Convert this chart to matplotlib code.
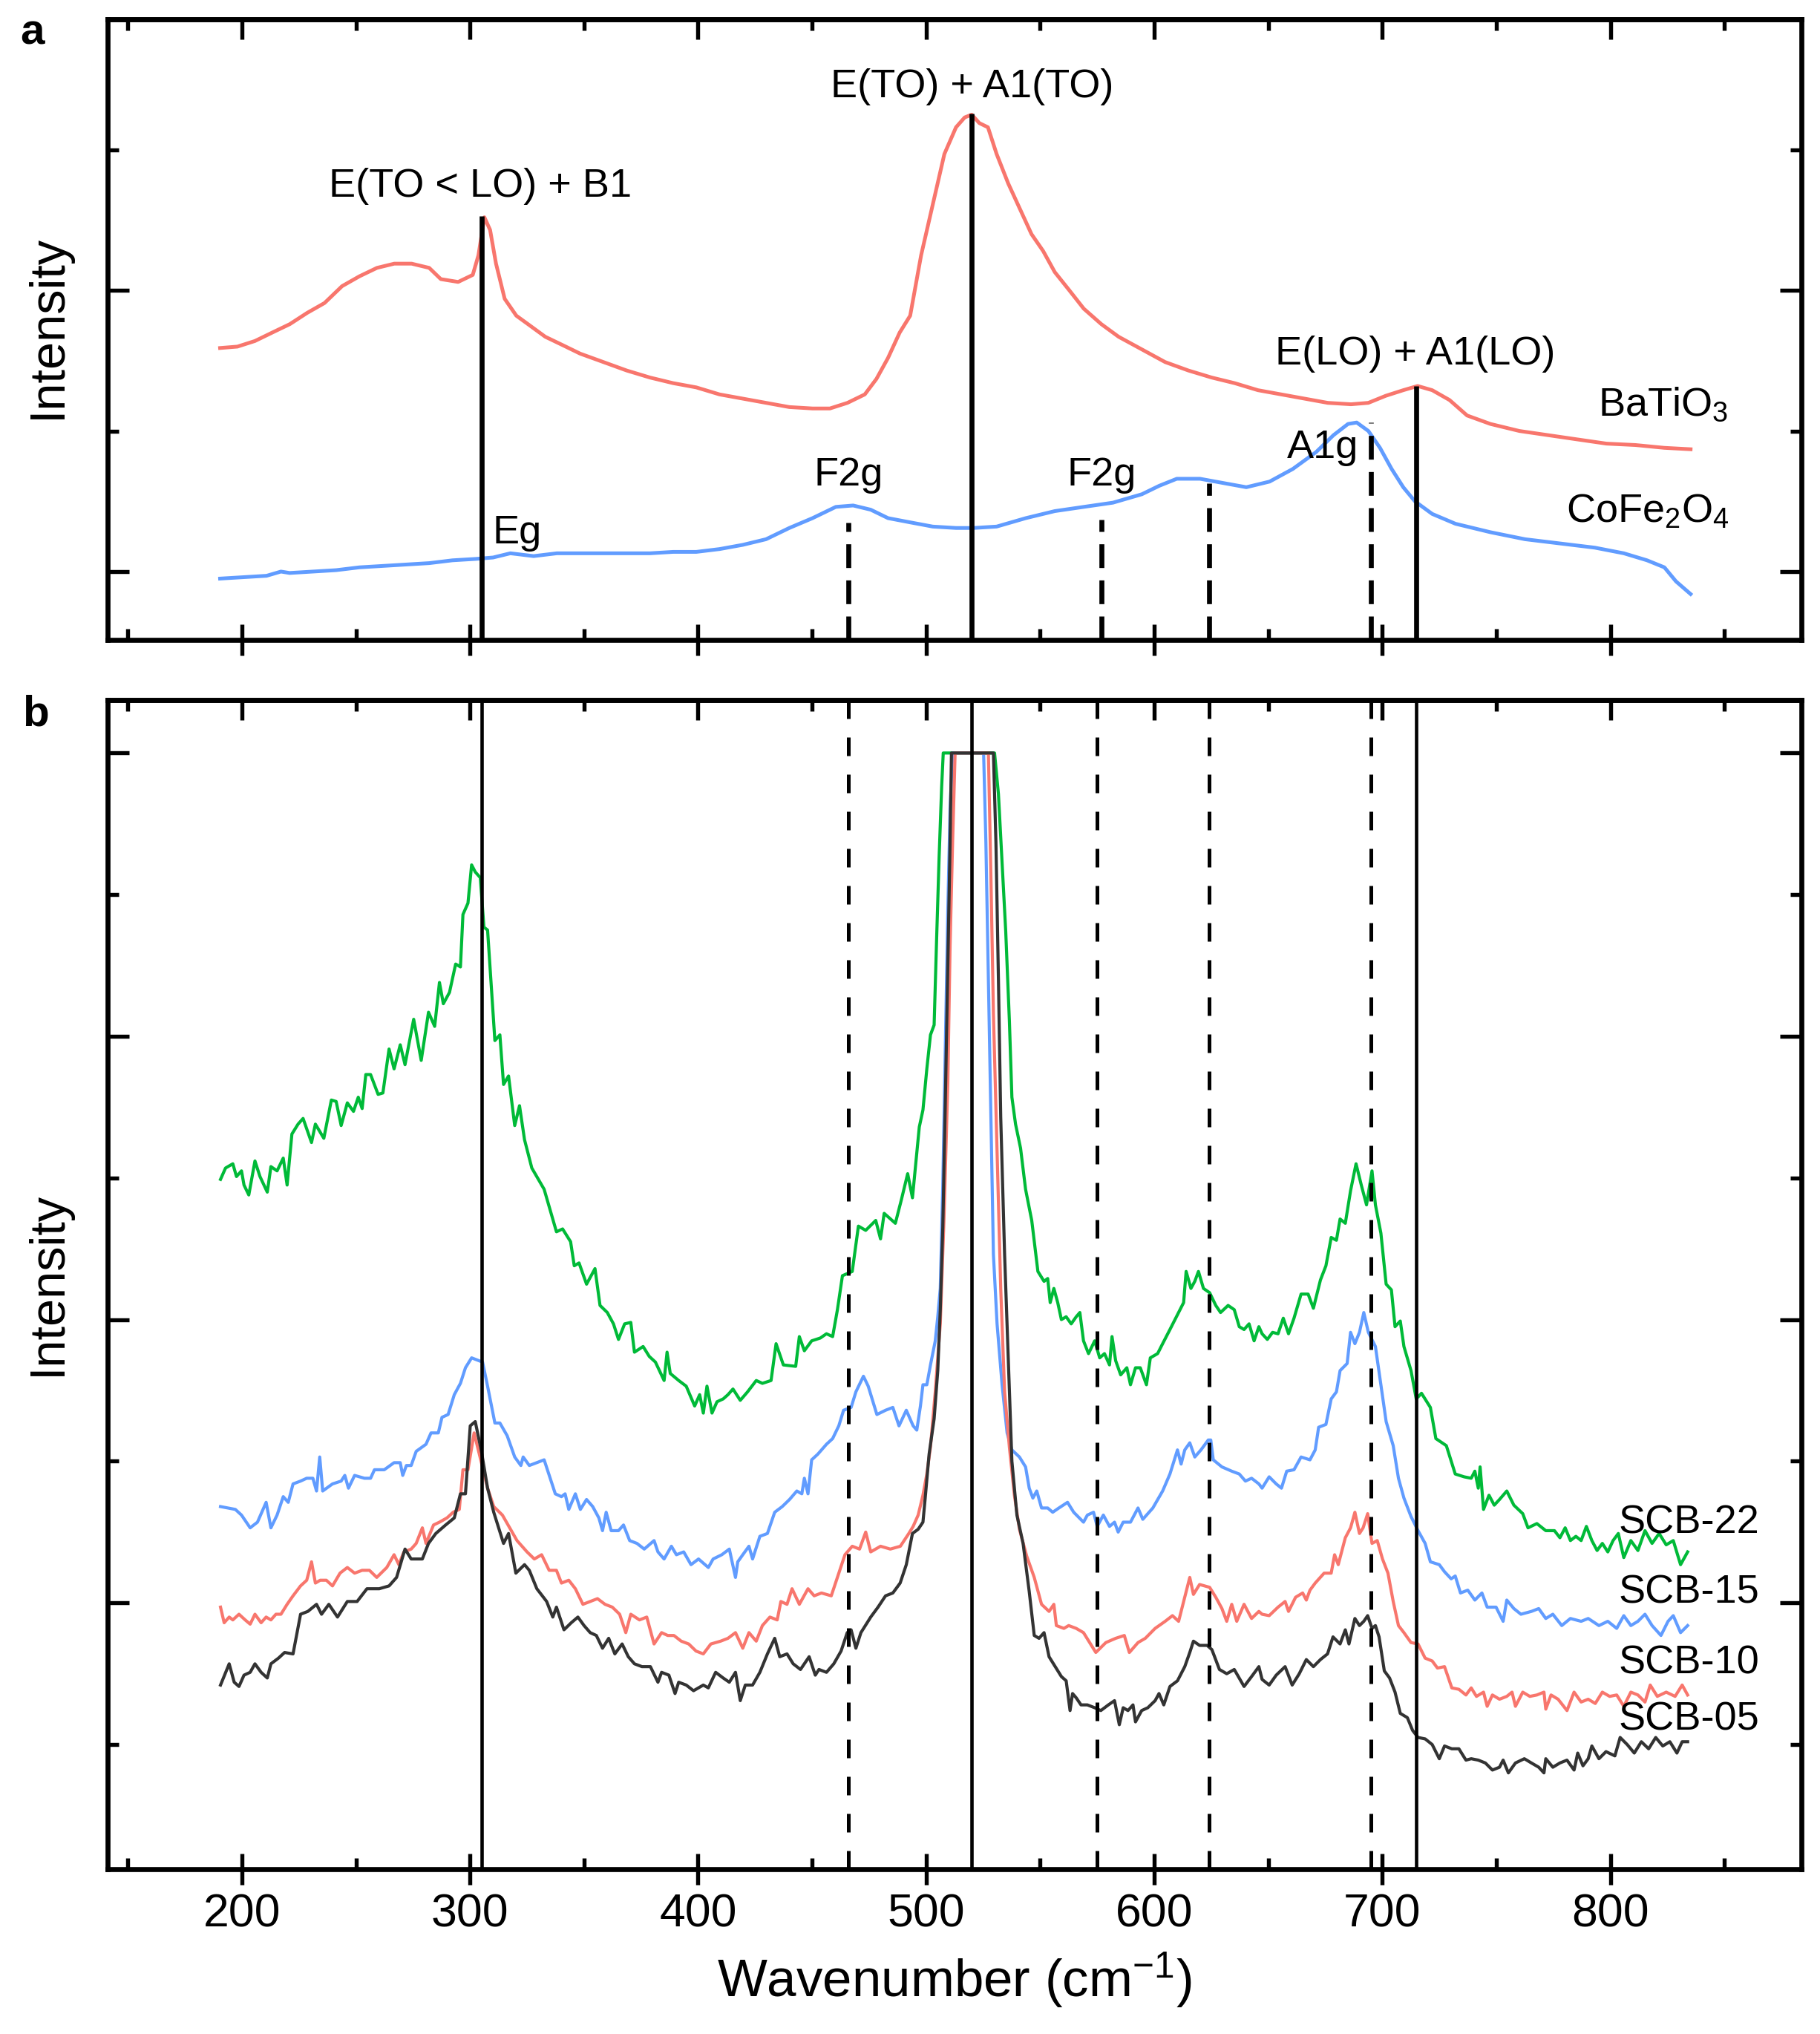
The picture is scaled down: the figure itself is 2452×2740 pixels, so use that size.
import numpy as np
import matplotlib
matplotlib.use("Agg")
import matplotlib.pyplot as plt
from matplotlib.ticker import MultipleLocator, FixedLocator, NullFormatter

plt.rcParams['font.family'] = ['Liberation Sans', 'DejaVu Sans']
plt.rcParams['mathtext.fontset'] = 'custom'
plt.rcParams['mathtext.rm'] = 'Liberation Sans'
plt.rcParams['mathtext.it'] = 'Liberation Sans:italic'
plt.rcParams['mathtext.bf'] = 'Liberation Sans:bold'

RED = '#F8766D'
BLUE = '#619CFF'
GREEN = '#00BA38'
DARK = '#333333'

# ---- panel a : reference spectra (wavenumber, intensity a.u.) ----
batio3 = [(190.4, 1.59), (198.0, 1.60), (205.7, 1.64), (213.3, 1.70), (221.0, 1.76), (228.6, 1.84),
          (236.2, 1.91), (243.9, 2.03), (251.5, 2.10), (259.2, 2.16), (266.8, 2.19), (274.4, 2.19),
          (282.1, 2.16), (287.2, 2.08), (294.8, 2.06), (301.2, 2.11), (303.7, 2.25), (306.3, 2.52),
          (308.8, 2.43), (311.4, 2.19), (315.2, 1.94), (320.3, 1.82), (325.4, 1.76), (333.0, 1.67),
          (340.7, 1.61), (348.3, 1.55), (358.5, 1.49), (368.7, 1.43), (378.9, 1.38), (389.1, 1.34),
          (399.2, 1.31), (409.4, 1.26), (419.6, 1.23), (429.8, 1.20), (440.0, 1.17), (450.2, 1.16),
          (457.8, 1.16), (465.5, 1.20), (473.1, 1.26), (478.2, 1.37), (483.3, 1.52), (488.4, 1.70),
          (493.0, 1.82), (497.8, 2.25), (502.9, 2.61), (508.0, 2.97), (513.1, 3.16), (516.9, 3.23),
          (520.0, 3.25), (523.3, 3.19), (527.1, 3.16), (530.9, 2.97), (536.0, 2.76), (541.1, 2.58),
          (546.2, 2.40), (551.3, 2.28), (556.4, 2.13), (562.8, 2.00), (569.1, 1.87), (576.8, 1.76),
          (584.4, 1.67), (594.6, 1.58), (604.8, 1.49), (615.0, 1.43), (625.2, 1.38), (635.3, 1.34),
          (645.5, 1.29), (655.7, 1.26), (665.9, 1.23), (676.1, 1.20), (686.3, 1.19), (693.9, 1.20),
          (701.5, 1.25), (709.2, 1.29), (715.5, 1.32), (721.9, 1.29), (729.5, 1.22), (737.2, 1.11),
          (747.4, 1.05), (760.1, 1.00), (772.8, 0.97), (785.5, 0.94), (798.3, 0.91), (811.0, 0.90),
          (823.7, 0.88), (835.2, 0.87)]

cofe2o4 = [(190.4, -0.05), (200.6, -0.04), (210.8, -0.03), (217.1, 0.00), (220.9, -0.01), (231.1, 0.00),
           (241.3, 0.01), (251.5, 0.03), (261.7, 0.04), (271.9, 0.05), (282.1, 0.06), (292.3, 0.08),
           (302.5, 0.09), (310.1, 0.10), (317.7, 0.13), (327.9, 0.11), (338.1, 0.13), (348.3, 0.13),
           (358.5, 0.13), (368.7, 0.13), (378.9, 0.13), (389.1, 0.14), (399.2, 0.14), (409.4, 0.16),
           (419.6, 0.19), (429.8, 0.23), (440.0, 0.31), (450.2, 0.38), (460.4, 0.46), (468.0, 0.47),
           (475.7, 0.44), (483.3, 0.38), (493.0, 0.35), (502.9, 0.32), (513.1, 0.31), (520.8, 0.31),
           (530.9, 0.32), (543.7, 0.38), (556.4, 0.43), (569.1, 0.46), (581.9, 0.49), (594.6, 0.55),
           (602.2, 0.61), (609.9, 0.66), (620.1, 0.66), (630.2, 0.63), (640.4, 0.60), (650.6, 0.64),
           (660.8, 0.73), (671.0, 0.85), (678.6, 0.97), (685.0, 1.05), (688.8, 1.06), (693.9, 1.00),
           (699.0, 0.88), (704.1, 0.73), (709.2, 0.60), (714.3, 0.50), (721.9, 0.41), (732.1, 0.34),
           (747.4, 0.28), (762.6, 0.23), (777.9, 0.20), (793.2, 0.17), (805.9, 0.13), (816.1, 0.08),
           (823.7, 0.03), (828.8, -0.07), (835.2, -0.16)]

# mode positions and how high the marker lines reach in panel a
bto_modes = [305, 520, 715]
bto_tops = [2.53, 3.26, 1.32]
cfo_modes_a = [466, 577, 624, 695]
cfo_tops = [0.35, 0.37, 0.63, 1.06]
cfo_modes_b = [466, 575, 624, 695]

# ---- panel b : composite samples ----
scb22 = [(190.6, 3.99), (192.8, 4.07), (196.0, 4.10), (197.6, 4.01), (199.8, 4.05), (200.9, 3.95),
         (203.0, 3.88), (205.7, 4.12), (207.9, 4.01), (211.1, 3.90), (212.7, 4.08), (215.4, 4.05),
         (218.1, 4.14), (219.8, 3.95), (221.9, 4.31), (224.6, 4.38), (226.8, 4.42), (230.5, 4.25),
         (232.2, 4.38), (235.9, 4.28), (239.2, 4.55), (241.3, 4.54), (243.5, 4.37), (246.2, 4.53),
         (248.9, 4.47), (251.0, 4.57), (252.7, 4.49), (254.3, 4.73), (256.4, 4.73), (259.7, 4.59),
         (261.8, 4.60), (264.5, 4.91), (266.7, 4.77), (269.4, 4.94), (271.5, 4.80), (275.3, 5.12),
         (278.6, 4.83), (281.8, 5.17), (284.5, 5.07), (286.6, 5.38), (288.3, 5.23), (291.0, 5.31),
         (293.7, 5.51), (295.8, 5.49), (296.9, 5.86), (299.1, 5.94), (300.7, 6.21), (302.3, 6.16),
         (304.5, 6.12), (306.1, 5.77), (307.7, 5.75), (310.9, 4.97), (313.1, 5.01), (314.7, 4.66),
         (316.9, 4.72), (319.6, 4.37), (321.7, 4.51), (323.9, 4.27), (327.1, 4.07), (332.5, 3.92),
         (337.9, 3.62), (340.6, 3.64), (344.1, 3.55), (345.7, 3.38), (347.8, 3.40), (351.1, 3.25),
         (354.8, 3.36), (357.0, 3.10), (360.2, 3.05), (362.9, 2.97), (365.1, 2.86), (367.8, 2.97),
         (370.5, 2.98), (372.1, 2.77), (375.9, 2.81), (378.6, 2.74), (381.3, 2.70), (385.1, 2.57),
         (386.4, 2.77), (387.8, 2.62), (391.5, 2.57), (394.8, 2.53), (398.5, 2.39), (400.7, 2.47),
         (402.3, 2.34), (403.9, 2.53), (406.1, 2.34), (408.3, 2.42), (411.0, 2.44), (413.1, 2.47),
         (415.3, 2.51), (418.5, 2.43), (421.7, 2.49), (425.5, 2.57), (428.2, 2.55), (432.0, 2.57),
         (434.2, 2.83), (437.4, 2.68), (442.8, 2.67), (444.4, 2.88), (446.6, 2.78), (449.8, 2.85),
         (453.6, 2.87), (456.3, 2.90), (459.0, 2.88), (461.1, 3.07), (463.3, 3.31), (467.6, 3.34),
         (470.3, 3.66), (473.5, 3.63), (477.9, 3.70), (480.0, 3.57), (481.6, 3.75), (486.5, 3.68),
         (489.2, 3.85), (491.9, 4.03), (494.0, 3.86), (497.0, 4.36), (498.6, 4.48), (500.3, 4.77),
         (501.9, 5.01), (503.5, 5.08), (504.6, 5.69), (505.7, 6.27), (506.8, 6.76), (507.5, 7.0),
         (530.0, 7.0), (531.7, 6.71), (533.3, 6.22), (534.9, 5.74), (536.5, 5.11), (537.6, 4.57),
         (539.2, 4.38), (541.4, 4.21), (543.6, 3.92), (546.3, 3.70), (549.0, 3.34), (551.7, 3.27),
         (553.3, 3.29), (554.4, 3.12), (556.0, 3.22), (557.7, 3.12), (559.3, 3.00), (561.4, 3.02),
         (563.6, 2.97), (565.8, 3.02), (567.4, 3.05), (569.0, 2.85), (571.2, 2.76), (573.9, 2.85),
         (576.1, 2.73), (578.2, 2.76), (580.4, 2.68), (581.5, 2.88), (583.1, 2.71), (585.3, 2.61),
         (588.0, 2.66), (589.6, 2.54), (591.8, 2.66), (593.9, 2.66), (596.6, 2.54), (598.3, 2.73),
         (601.5, 2.76), (603.7, 2.83), (606.9, 2.93), (611.3, 3.07), (612.9, 3.12), (614.0, 3.34),
         (616.1, 3.22), (617.8, 3.27), (619.4, 3.34), (621.6, 3.22), (624.3, 3.19), (627.0, 3.10),
         (629.1, 3.05), (632.4, 3.10), (635.1, 3.07), (637.3, 2.95), (639.4, 2.93), (641.6, 2.97),
         (643.8, 2.85), (645.9, 2.95), (647.3, 2.90), (649.6, 2.86), (651.9, 2.91), (654.3, 2.90),
         (656.6, 3.01), (658.9, 2.90), (661.3, 3.01), (664.4, 3.18), (667.5, 3.18), (669.8, 3.08),
         (672.9, 3.28), (675.3, 3.38), (677.6, 3.58), (679.9, 3.56), (681.5, 3.71), (683.8, 3.68),
         (686.1, 3.91), (688.5, 4.10), (690.8, 3.95), (693.1, 3.81), (695.5, 4.05), (697.0, 3.81),
         (699.4, 3.61), (701.7, 3.25), (704.0, 3.21), (705.6, 2.95), (707.9, 2.99), (709.5, 2.81),
         (712.6, 2.64), (714.9, 2.44), (717.2, 2.48), (721.1, 2.38), (723.5, 2.16), (728.1, 2.11),
         (732.0, 1.91), (735.9, 1.89), (739.0, 1.88), (740.6, 1.93), (742.1, 1.81), (742.9, 1.96),
         (744.4, 1.66), (746.8, 1.76), (749.1, 1.69), (751.4, 1.73), (754.6, 1.79), (757.7, 1.69),
         (761.6, 1.63), (763.9, 1.53), (767.8, 1.56), (771.7, 1.51), (775.5, 1.51), (777.9, 1.46),
         (780.2, 1.53), (782.5, 1.44), (784.9, 1.47), (787.2, 1.44), (789.5, 1.54), (791.9, 1.44),
         (794.2, 1.37), (796.5, 1.42), (798.9, 1.36), (801.2, 1.44), (803.5, 1.49), (805.9, 1.32),
         (809.0, 1.44), (812.1, 1.37), (815.2, 1.51), (818.3, 1.42), (821.4, 1.49), (824.5, 1.41),
         (827.6, 1.44), (830.8, 1.27), (833.9, 1.36)]

scb15 = [(190.6, 1.68), (197.1, 1.66), (199.8, 1.62), (203.6, 1.53), (206.8, 1.57), (210.6, 1.71),
         (212.7, 1.53), (215.4, 1.62), (218.1, 1.75), (220.3, 1.71), (222.4, 1.84), (225.7, 1.86),
         (228.4, 1.88), (231.1, 1.88), (232.7, 1.79), (234.1, 2.03), (235.4, 1.79), (239.7, 1.84),
         (243.5, 1.86), (245.1, 1.90), (246.7, 1.81), (249.4, 1.90), (253.7, 1.88), (256.4, 1.88),
         (258.1, 1.94), (262.4, 1.94), (266.7, 1.99), (269.4, 1.99), (270.5, 1.90), (272.1, 1.97),
         (274.2, 1.97), (276.4, 2.07), (280.7, 2.12), (282.9, 2.20), (286.1, 2.20), (287.7, 2.31),
         (290.4, 2.33), (293.1, 2.47), (295.8, 2.55), (298.0, 2.66), (300.7, 2.73), (305.5, 2.70),
         (307.7, 2.53), (310.9, 2.27), (313.1, 2.27), (316.3, 2.18), (319.6, 2.03), (322.3, 1.97),
         (323.3, 2.03), (326.0, 1.97), (332.5, 2.01), (337.4, 1.77), (340.1, 1.75), (341.7, 1.77),
         (343.3, 1.66), (346.2, 1.77), (348.4, 1.66), (351.1, 1.73), (353.8, 1.68), (356.5, 1.60),
         (358.1, 1.51), (359.7, 1.64), (361.9, 1.51), (365.1, 1.51), (367.3, 1.55), (370.0, 1.44),
         (373.2, 1.42), (376.4, 1.38), (380.7, 1.44), (382.4, 1.36), (385.1, 1.31), (388.3, 1.40),
         (390.5, 1.34), (393.7, 1.36), (396.9, 1.27), (400.2, 1.31), (404.5, 1.25), (406.6, 1.31),
         (410.4, 1.34), (413.7, 1.38), (416.4, 1.18), (417.4, 1.29), (419.6, 1.34), (422.3, 1.40),
         (423.9, 1.31), (427.1, 1.47), (430.4, 1.49), (433.6, 1.64), (436.9, 1.68), (440.1, 1.73),
         (443.3, 1.79), (445.5, 1.77), (446.6, 1.88), (448.2, 1.77), (449.8, 2.01), (452.5, 2.05),
         (456.3, 2.12), (459.0, 2.16), (461.7, 2.25), (463.8, 2.36), (467.1, 2.38), (469.2, 2.49),
         (472.5, 2.60), (474.6, 2.53), (478.4, 2.33), (482.2, 2.36), (485.4, 2.38), (488.1, 2.25),
         (491.3, 2.36), (494.3, 2.25), (495.9, 2.22), (497.5, 2.39), (498.6, 2.54), (500.3, 2.54),
         (501.9, 2.68), (504.0, 2.85), (505.1, 3.02), (506.2, 3.22), (507.3, 3.94), (508.4, 4.91),
         (509.5, 5.88), (510.5, 6.61), (511.6, 7.0), (525.2, 7.0), (526.2, 6.37), (527.3, 5.40),
         (528.4, 4.43), (529.5, 3.46), (531.1, 2.97), (533.3, 2.54), (535.5, 2.20), (537.6, 2.08),
         (540.9, 2.03), (543.6, 1.96), (545.2, 1.81), (546.8, 1.74), (548.5, 1.79), (550.6, 1.67),
         (553.3, 1.67), (555.5, 1.64), (558.2, 1.67), (562.0, 1.71), (564.7, 1.64), (569.0, 1.57),
         (570.7, 1.62), (573.4, 1.64), (575.0, 1.54), (577.7, 1.62), (580.4, 1.54), (582.6, 1.57),
         (584.2, 1.50), (586.4, 1.57), (589.6, 1.57), (592.9, 1.67), (595.0, 1.59), (599.4, 1.67),
         (603.7, 1.79), (606.9, 1.91), (610.2, 2.08), (611.8, 1.98), (613.4, 2.08), (615.6, 2.13),
         (617.8, 2.03), (620.5, 2.08), (623.7, 2.15), (624.8, 2.15), (625.9, 2.01), (629.7, 1.96),
         (634.0, 1.93), (637.3, 1.91), (640.0, 1.86), (642.7, 1.88), (645.9, 1.84), (647.3, 1.81),
         (650.4, 1.89), (653.5, 1.84), (655.8, 1.81), (658.1, 1.93), (661.3, 1.94), (664.4, 2.03),
         (668.3, 2.01), (670.6, 2.08), (672.1, 2.24), (675.3, 2.26), (677.6, 2.44), (679.9, 2.49),
         (681.5, 2.64), (684.6, 2.69), (686.1, 2.91), (688.0, 2.83), (690.0, 2.91), (691.9, 3.05),
         (693.9, 2.91), (697.0, 2.81), (699.4, 2.54), (701.7, 2.28), (704.8, 2.11), (707.1, 1.88),
         (709.5, 1.74), (712.6, 1.61), (715.7, 1.51), (718.8, 1.42), (721.1, 1.29), (725.0, 1.27),
         (727.3, 1.22), (730.2, 1.17), (732.0, 1.19), (734.3, 1.07), (737.5, 1.09), (740.6, 1.02),
         (743.7, 1.07), (746.0, 0.97), (749.9, 0.97), (753.0, 0.87), (754.6, 1.02), (757.7, 0.96),
         (760.8, 0.92), (765.4, 0.94), (768.6, 0.96), (771.7, 0.89), (774.8, 0.92), (778.7, 0.84),
         (782.5, 0.89), (787.2, 0.87), (790.3, 0.89), (795.0, 0.84), (798.9, 0.87), (802.8, 0.82),
         (805.9, 0.91), (809.0, 0.84), (812.1, 0.87), (815.2, 0.92), (818.3, 0.84), (822.2, 0.77),
         (825.3, 0.87), (827.6, 0.91), (830.8, 0.79), (833.9, 0.84)]

scb10 = [(190.6, 0.97), (192.2, 0.86), (194.4, 0.90), (196.0, 0.88), (198.7, 0.92), (201.4, 0.88),
         (203.6, 0.85), (205.7, 0.92), (208.4, 0.86), (210.6, 0.90), (212.7, 0.88), (214.9, 0.92),
         (217.1, 0.92), (219.8, 0.99), (222.4, 1.05), (225.7, 1.12), (228.4, 1.16), (230.5, 1.29),
         (232.2, 1.14), (234.3, 1.16), (237.0, 1.16), (239.7, 1.12), (243.0, 1.21), (246.2, 1.25),
         (249.4, 1.21), (252.7, 1.23), (255.9, 1.23), (259.1, 1.18), (263.5, 1.25), (266.7, 1.34),
         (268.8, 1.27), (271.0, 1.36), (274.2, 1.38), (276.4, 1.42), (279.1, 1.53), (280.7, 1.42),
         (284.0, 1.55), (286.6, 1.57), (289.9, 1.60), (292.6, 1.64), (295.3, 1.66), (296.9, 1.94),
         (299.1, 1.94), (301.8, 2.20), (305.0, 1.99), (307.7, 1.81), (310.4, 1.68), (314.2, 1.62),
         (317.4, 1.53), (320.6, 1.44), (325.0, 1.36), (328.2, 1.31), (331.4, 1.34), (334.7, 1.23),
         (337.9, 1.23), (340.1, 1.14), (343.3, 1.16), (346.2, 1.10), (349.5, 0.99), (352.7, 1.01),
         (355.9, 1.03), (359.2, 0.99), (362.4, 0.97), (365.6, 0.92), (368.3, 0.79), (370.5, 0.92),
         (374.3, 0.88), (377.5, 0.90), (380.7, 0.71), (384.0, 0.79), (386.7, 0.77), (389.4, 0.77),
         (392.6, 0.73), (395.9, 0.71), (399.1, 0.66), (402.3, 0.64), (405.6, 0.71), (409.9, 0.73),
         (413.1, 0.75), (416.4, 0.79), (419.6, 0.68), (422.3, 0.79), (425.5, 0.73), (428.2, 0.84),
         (431.5, 0.90), (434.7, 0.88), (436.3, 1.01), (439.0, 0.99), (441.2, 1.10), (444.4, 0.99),
         (448.2, 1.10), (450.9, 1.05), (454.1, 1.07), (458.4, 1.05), (461.7, 1.21), (464.4, 1.34),
         (467.6, 1.40), (470.8, 1.38), (473.5, 1.50), (475.7, 1.36), (480.0, 1.40), (484.3, 1.38),
         (488.7, 1.40), (492.4, 1.49), (494.3, 1.54), (496.5, 1.62), (498.6, 1.76), (500.3, 1.91),
         (501.9, 2.10), (504.0, 2.49), (506.2, 2.97), (507.8, 3.70), (509.5, 4.67), (510.5, 5.64),
         (511.6, 6.37), (512.7, 7.0), (527.3, 7.0), (528.4, 6.13), (529.5, 5.16), (531.1, 4.19),
         (532.7, 3.22), (534.4, 2.49), (536.5, 2.10), (538.7, 1.76), (540.9, 1.52), (544.1, 1.33),
         (547.4, 1.18), (550.6, 0.99), (553.9, 0.94), (556.0, 0.99), (557.1, 0.84), (560.4, 0.82),
         (562.5, 0.84), (565.8, 0.82), (569.0, 0.79), (571.7, 0.72), (574.4, 0.65), (578.8, 0.72),
         (583.1, 0.75), (586.9, 0.77), (589.1, 0.65), (592.9, 0.72), (596.1, 0.75), (600.4, 0.82),
         (604.8, 0.87), (608.0, 0.91), (610.7, 0.87), (613.4, 1.04), (615.6, 1.18), (617.2, 1.06),
         (619.9, 1.13), (624.3, 1.11), (627.0, 1.04), (629.7, 0.96), (631.8, 0.87), (634.0, 0.99),
         (636.2, 0.87), (639.4, 0.99), (642.7, 0.89), (645.9, 0.94), (647.3, 0.92), (650.4, 0.91),
         (654.3, 0.97), (657.4, 1.01), (658.9, 0.94), (662.0, 1.04), (665.1, 1.07), (666.7, 1.02),
         (668.3, 1.09), (670.6, 1.14), (674.5, 1.21), (677.6, 1.21), (679.1, 1.34), (680.7, 1.27),
         (683.8, 1.46), (686.1, 1.53), (688.0, 1.64), (690.0, 1.49), (691.6, 1.53), (693.6, 1.63),
         (695.5, 1.42), (697.8, 1.44), (700.1, 1.31), (702.5, 1.21), (704.8, 1.01), (707.1, 0.84),
         (709.5, 0.79), (712.6, 0.72), (715.7, 0.71), (718.8, 0.61), (721.9, 0.59), (724.2, 0.54),
         (727.3, 0.55), (730.5, 0.40), (733.6, 0.39), (736.7, 0.35), (739.0, 0.40), (741.3, 0.34),
         (744.4, 0.37), (746.0, 0.27), (748.3, 0.35), (751.4, 0.32), (754.6, 0.34), (756.9, 0.37),
         (758.4, 0.27), (761.6, 0.37), (764.7, 0.34), (767.8, 0.35), (770.9, 0.37), (771.7, 0.25),
         (774.0, 0.35), (777.1, 0.32), (781.0, 0.24), (784.1, 0.37), (787.2, 0.30), (790.3, 0.32),
         (793.4, 0.29), (796.5, 0.37), (799.7, 0.34), (802.8, 0.35), (805.9, 0.27), (809.0, 0.37),
         (812.1, 0.35), (815.2, 0.30), (817.5, 0.42), (820.6, 0.34), (824.5, 0.37), (828.4, 0.34),
         (831.5, 0.42), (833.9, 0.35)]

scb05 = [(190.6, 0.42), (194.4, 0.57), (196.6, 0.44), (198.7, 0.41), (200.9, 0.49), (203.6, 0.51),
         (205.7, 0.57), (208.4, 0.51), (211.1, 0.47), (212.7, 0.57), (216.0, 0.61), (218.7, 0.65),
         (222.4, 0.64), (225.7, 0.92), (228.9, 0.94), (232.7, 0.99), (234.9, 0.92), (238.1, 0.99),
         (241.9, 0.90), (246.2, 1.01), (250.5, 1.01), (254.8, 1.10), (260.2, 1.10), (264.5, 1.12),
         (267.8, 1.18), (271.5, 1.38), (274.2, 1.31), (279.1, 1.31), (281.8, 1.42), (285.0, 1.49),
         (289.3, 1.55), (293.1, 1.60), (295.8, 1.77), (298.0, 1.77), (300.1, 2.25), (302.3, 2.28),
         (305.0, 2.07), (307.7, 1.81), (310.4, 1.64), (314.7, 1.42), (316.9, 1.49), (320.1, 1.21),
         (323.9, 1.27), (326.0, 1.23), (329.3, 1.10), (333.6, 1.01), (336.3, 0.90), (337.9, 0.97),
         (341.2, 0.81), (344.4, 0.86), (347.3, 0.90), (350.0, 0.84), (352.7, 0.79), (355.4, 0.77),
         (358.1, 0.68), (360.8, 0.75), (363.5, 0.64), (366.7, 0.71), (369.4, 0.62), (372.1, 0.57),
         (375.4, 0.55), (379.1, 0.55), (382.4, 0.44), (384.0, 0.51), (387.2, 0.49), (389.9, 0.36),
         (391.5, 0.44), (394.8, 0.42), (398.0, 0.38), (402.3, 0.42), (404.5, 0.40), (407.7, 0.51),
         (411.0, 0.47), (413.7, 0.44), (416.4, 0.51), (418.5, 0.31), (420.7, 0.42), (423.9, 0.42),
         (427.1, 0.51), (430.4, 0.64), (433.6, 0.75), (435.8, 0.62), (439.0, 0.64), (441.7, 0.57),
         (444.9, 0.53), (448.7, 0.62), (451.4, 0.49), (453.0, 0.53), (456.3, 0.51), (459.5, 0.57),
         (462.7, 0.66), (465.4, 0.79), (467.1, 0.81), (469.2, 0.68), (471.4, 0.79), (475.7, 0.90),
         (478.9, 0.97), (482.2, 1.05), (485.4, 1.07), (488.6, 1.14), (491.3, 1.27), (494.0, 1.49),
         (496.5, 1.52), (498.6, 1.57), (499.7, 1.76), (501.3, 2.05), (503.5, 2.30), (505.1, 2.64),
         (506.2, 3.07), (507.3, 3.65), (508.4, 4.53), (509.5, 5.50), (510.5, 6.37), (511.1, 7.0),
         (529.5, 7.0), (530.6, 6.37), (531.7, 5.40), (532.7, 4.43), (534.4, 3.46), (536.0, 2.73),
         (537.6, 2.00), (539.8, 1.62), (542.5, 1.42), (545.2, 1.08), (547.4, 0.77), (549.5, 0.75),
         (551.7, 0.79), (553.9, 0.62), (556.6, 0.55), (559.3, 0.48), (561.4, 0.45), (563.1, 0.24),
         (564.2, 0.36), (565.8, 0.33), (567.9, 0.28), (570.7, 0.28), (573.9, 0.26), (576.6, 0.24),
         (579.9, 0.28), (582.6, 0.31), (584.7, 0.14), (586.4, 0.26), (588.5, 0.24), (590.7, 0.28),
         (591.8, 0.16), (594.5, 0.24), (597.2, 0.26), (600.4, 0.31), (602.1, 0.36), (604.2, 0.28),
         (606.9, 0.41), (610.2, 0.45), (613.4, 0.55), (615.6, 0.65), (617.2, 0.73), (619.9, 0.70),
         (623.2, 0.70), (625.3, 0.67), (628.6, 0.53), (631.8, 0.50), (635.1, 0.53), (639.4, 0.41),
         (642.7, 0.48), (645.9, 0.55), (647.3, 0.46), (650.4, 0.42), (653.5, 0.49), (657.4, 0.55),
         (660.5, 0.42), (663.6, 0.50), (666.7, 0.60), (669.8, 0.55), (672.9, 0.60), (676.0, 0.64),
         (678.4, 0.76), (681.5, 0.71), (683.8, 0.81), (685.4, 0.71), (688.0, 0.89), (690.0, 0.84),
         (691.9, 0.87), (693.6, 0.91), (695.5, 0.82), (697.0, 0.84), (698.6, 0.76), (700.9, 0.52),
         (703.2, 0.47), (705.6, 0.37), (707.9, 0.22), (711.0, 0.19), (713.3, 0.10), (715.7, 0.05),
         (718.8, 0.04), (721.9, 0.00), (725.0, -0.10), (727.3, -0.01), (730.5, -0.03), (733.6, -0.03),
         (736.7, -0.11), (739.0, -0.10), (742.1, -0.11), (745.2, -0.13), (748.3, -0.18), (751.4, -0.16),
         (753.0, -0.11), (755.3, -0.20), (758.4, -0.13), (762.3, -0.10), (765.4, -0.13), (768.6, -0.16),
         (770.9, -0.20), (771.7, -0.10), (774.8, -0.16), (777.9, -0.13), (781.0, -0.11), (784.1, -0.18),
         (785.7, -0.06), (788.0, -0.15), (790.3, -0.10), (791.9, -0.01), (795.0, -0.10), (798.1, -0.05),
         (802.0, -0.08), (804.3, 0.05), (807.4, 0.00), (810.5, -0.06), (813.6, 0.02), (816.8, -0.03),
         (819.9, 0.05), (823.0, -0.01), (826.1, 0.02), (829.2, -0.06), (831.5, 0.02), (833.9, 0.02)]

sample_names = ['SCB-22', 'SCB-15', 'SCB-10', 'SCB-05']
sample_label_y = [1.49, 1.00, 0.50, 0.10]


def style_axes(ax, ymajor, yminor, show_xlabels):
    ax.set_xlim(141.1, 883.8)
    ax.xaxis.set_major_locator(MultipleLocator(100))
    ax.xaxis.set_minor_locator(MultipleLocator(50))
    ax.yaxis.set_major_locator(FixedLocator(ymajor))
    ax.yaxis.set_minor_locator(FixedLocator(yminor))
    ax.yaxis.set_major_formatter(NullFormatter())
    ax.tick_params(axis='y', which='both', direction='in', left=True, right=True,
                   width=1.3, labelleft=False)
    ax.tick_params(axis='y', which='major', length=7)
    ax.tick_params(axis='y', which='minor', length=3.5)
    ax.tick_params(axis='x', which='major', direction='inout', length=10, width=1.3,
                   top=False, labelsize=15, pad=2.5, labelbottom=show_xlabels)
    ax.tick_params(axis='x', which='minor', direction='in', length=3.5, width=1.3, top=False)
    for s in ax.spines.values():
        s.set_linewidth(1.6)
    # inward ticks on the top edge
    top = ax.secondary_xaxis('top')
    top.xaxis.set_major_locator(MultipleLocator(100))
    top.xaxis.set_minor_locator(MultipleLocator(50))
    top.xaxis.set_major_formatter(NullFormatter())
    top.tick_params(which='both', direction='in', width=1.3)
    top.tick_params(which='major', length=6.5)
    top.tick_params(which='minor', length=3.5)
    top.spines['top'].set_linewidth(1.6)


W, H = 2453, 2740
fig = plt.figure(figsize=(W / 300, H / 300), dpi=300)
ax_a = fig.add_axes([145 / W, 1 - 862 / H, 2282 / W, 836 / H])
ax_b = fig.add_axes([145 / W, 1 - 2518 / H, 2282 / W, 1575 / H])

# ---- panel a ----
bx, by = np.array(batio3).T
cx, cy = np.array(cofe2o4).T
ax_a.plot(bx, by, color=RED, lw=1.2)
ax_a.plot(cx, cy, color=BLUE, lw=1.2)
ya0 = -0.486
ax_a.set_ylim(ya0, 3.928)
ax_a.vlines(bto_modes, ya0, bto_tops, colors='black', lw=1.6, zorder=3)
ax_a.vlines(cfo_modes_a, ya0, cfo_tops, colors='black', lw=1.6, linestyles=(0, (4.8, 2.5)), zorder=3)
style_axes(ax_a, [0, 2], [1, 3], False)

ann = dict(fontsize=13, va='baseline')
ax_a.text(304.5, 2.665, 'E(TO < LO) + B1', ha='center', **ann)
ax_a.text(520, 3.374, 'E(TO) + A1(TO)', ha='center', **ann)
ax_a.text(714.3, 1.474, 'E(LO) + A1(LO)', ha='center', **ann)
ax_a.text(310, 0.20, 'Eg', ha='left', **ann)
ax_a.text(466, 0.61, 'F2g', ha='center', **ann)
ax_a.text(577, 0.61, 'F2g', ha='center', **ann)
ax_a.text(674, 0.807, 'A1g', ha='center', **ann)
ax_a.text(794.5, 1.11, 'BaTiO$_3$', ha='left', **ann)
ax_a.text(780.5, 0.352, 'CoFe$_2$O$_4$', ha='left', **ann)

# ---- panel b ----
for data, col in [(scb22, GREEN), (scb15, BLUE), (scb10, RED), (scb05, DARK)]:
    x, y = np.array(data).T
    ax_b.plot(x, y, color=col, lw=1.0)
ax_b.set_ylim(-0.88, 7.374)
for m in bto_modes:
    ax_b.axvline(m, color='black', lw=1.1, zorder=3)
for m in cfo_modes_b:
    ax_b.axvline(m, color='black', lw=1.2, ls=(0, (5, 5)), zorder=3)
style_axes(ax_b, [1, 3, 5, 7], [0, 2, 4, 6], True)
for name, yy in zip(sample_names, sample_label_y):
    ax_b.text(803.5, yy, name, fontsize=13, ha='left', va='baseline')

# ---- figure labels ----
fig.text(27 / W, 1 - 60 / H, 'a', fontsize=14, fontweight='bold', va='baseline')
fig.text(30 / W, 1 - 978 / H, 'b', fontsize=14, fontweight='bold', va='baseline')
fig.text(65 / W, 1 - 440 / H, 'Intensity', rotation=90, fontsize=16, ha='center', va='center')
fig.text(65 / W, 1 - 1729 / H, 'Intensity', rotation=90, fontsize=16, ha='center', va='center')
fig.text(1286 / W, 1 - 2668 / H, r'Wavenumber (cm$^{-1}$)', fontsize=17, ha='center', va='center')

fig.savefig('out.png', dpi=300)
